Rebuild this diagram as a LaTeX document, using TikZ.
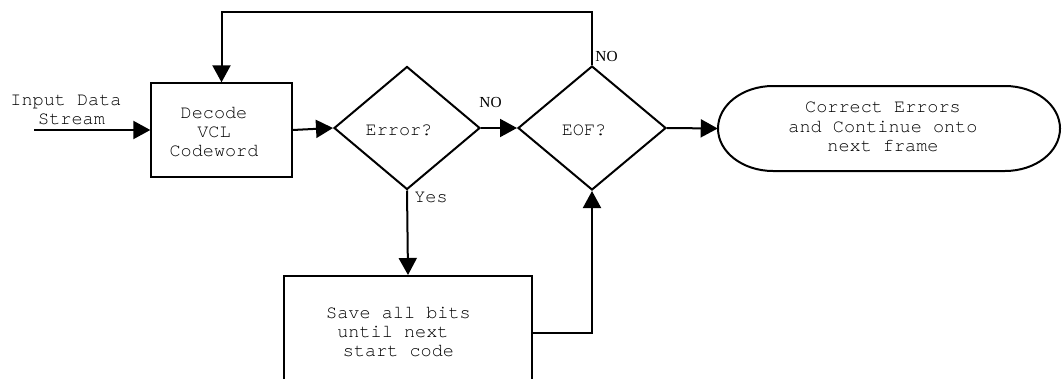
\documentclass[tikz,border=0pt]{standalone}
\usepackage{fontspec}
\setmainfont{Liberation Serif}
\setmonofont{TeX Gyre Cursor}
\usetikzlibrary{shapes.geometric,arrows.meta}

\begin{document}
\begin{tikzpicture}[x=0.75pt,y=-0.75pt,
  every node/.style={inner sep=0pt},
  flow/.style={line width=1.5pt},
  arr/.style={flow,-{Triangle[length=12.75pt,width=13.5pt]}},
  process/.style={draw,rectangle,line width=1pt},
  bigprocess/.style={draw,rectangle,line width=1.5pt},
  decision/.style={diamond,draw,line width=1.5pt,
    minimum width=146*0.75pt,minimum height=123*0.75pt},
  txt/.style={font=\ttfamily\fontsize{13.9pt}{14.4pt}\selectfont,align=center},
  lbl/.style={font=\fontsize{11.5pt}{12pt}\selectfont,anchor=base},
]
% canvas
\fill[white] (0,0) rectangle (1062,378);
\useasboundingbox (0,0) rectangle (1062,378);
\clip (0,0) rectangle (1062,378);

% shapes
\node[process,minimum width=141*0.75pt,minimum height=94*0.75pt] (dec) at (221.5,130) {};
\node[decision] (err) at (407,128) {};
\node[decision,minimum width=148*0.75pt,minimum height=124*0.75pt] (eof) at (592,128) {};
\node[bigprocess,minimum width=248*0.75pt,minimum height=114*0.75pt] (save) at (408,333) {};
\node[minimum width=342*0.75pt,minimum height=85*0.75pt] (term) at (889,128.5) {};
\draw[flow] (773,86) -- (1005,86)
  .. controls (1035.4,86) and (1060,105) .. (1060,128.5)
  .. controls (1060,152) and (1035.4,171) .. (1005,171)
  -- (773,171)
  .. controls (742.6,171) and (718,152) .. (718,128.5)
  .. controls (718,105) and (742.6,86) .. (773,86) -- cycle;

% texts
\node[txt] (tin) at (66,110) {Input Data\\\mbox{}\ Stream};
\node[txt] (tdec) at (214,132) {Decode\\VCL\\Codeword};
\node[txt,anchor=base] (terr) at (399,135) {Error?};
\node[txt,anchor=base] (teof) at (584,135) {EOF?};
\node[txt] (tterm) at (883,127) {Correct Errors\\and Continue onto\\next frame};
\node[txt] (tsave) at (398.5,332) {Save all bits\\until next\ \mbox{}\\start code};
\node[lbl] (no1) at (490.5,107) {NO};
\node[lbl] (no2) at (606.5,62) {NO};
\node[txt,anchor=base] (yes) at (431,202) {Yes};

% connectors
\coordinate (in) at (34,130);
\draw[arr] (in) -- (dec.west);
\draw[arr] (dec.east) -- (err.west);
\draw[arr] (err.east) -- (eof.west);
\draw[arr] (eof.east) -- (term.west);
\draw[arr] (err.south) -- (save.north);
\draw[arr] (save.east) -| (eof.south);
\draw[arr] (eof.north) -- ++(0,-53) -| (dec.north);
\end{tikzpicture}
\end{document}
